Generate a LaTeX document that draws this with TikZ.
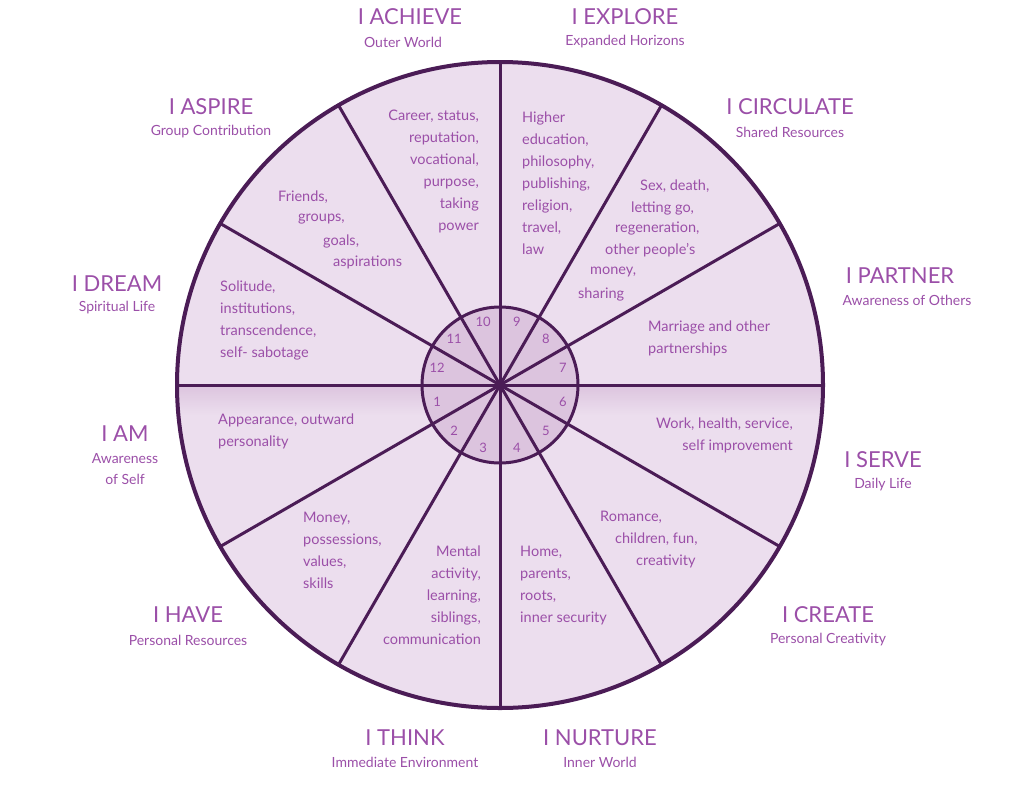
\documentclass[tikz,border=0pt]{standalone}
\usepackage{fontspec}
\usetikzlibrary{calc}
\setmainfont{Lato}
\definecolor{outl}{HTML}{4B1C56}
\definecolor{wfill}{HTML}{ECDEEE}
\definecolor{ifill}{HTML}{DCC4DE}
\definecolor{txt}{HTML}{9B4FA8}
\begin{document}
\begin{tikzpicture}[x=1pt,y=-1pt,
  title/.style={text=txt,font=\fontsize{22}{24}\selectfont,inner sep=0},
  sub/.style={text=txt,font=\fontsize{14}{16}\selectfont,inner sep=0},
  body/.style={text=txt,font=\fontsize{14.5}{22}\selectfont,inner sep=0},
  num/.style={text=txt,font=\fontsize{13}{15}\selectfont,inner sep=0},
  spoke/.style={draw=outl,line width=3pt}]
\useasboundingbox (0,0) rectangle (1024,798);
\coordinate (c) at (500,385);
\fill[wfill] (c) circle (323);
\begin{scope}
\clip (c) circle (323);
\shade[top color=ifill,bottom color=wfill] (150,385) rectangle (850,415);
\end{scope}
\fill[ifill] (c) circle (78);
\foreach \a in {0,30,...,330} \draw[spoke] (c) -- ++({-\a}:323);
\draw[outl,line width=3pt] (c) circle (78);
\draw[outl,line width=4pt] (c) circle (323);
\foreach \n in {1,...,12} \node[num] (n\n) at ($(c)+({-(165+30*\n)}:65)$) {\n};
% titles
\node[title] (t10) at (410,17) {I ACHIEVE}; \node[sub] (s10) at (403,42) {Outer World};
\node[title] (t9) at (625,17) {I EXPLORE}; \node[sub] (s9) at (625,42) {Expanded Horizons};
\node[title] (t8) at (790,107) {I CIRCULATE}; \node[sub] (s8) at (790,132) {Shared Resources};
\node[title] (t7) at (900,276) {I PARTNER}; \node[sub] (s7) at (907,300) {Awareness of Others};
\node[title] (t6) at (883,460) {I SERVE}; \node[sub] (s6) at (883,485) {Daily Life};
\node[title] (t5) at (828,615) {I CREATE}; \node[sub] (s5) at (828,640) {Personal Creativity};
\node[title] (t4) at (600,738) {I NURTURE}; \node[sub] (s4) at (600,762) {Inner World};
\node[title] (t3) at (405,738) {I THINK}; \node[sub] (s3) at (405,762) {Immediate Environment};
\node[title] (t2) at (188,615) {I HAVE}; \node[sub] (s2) at (188,640) {Personal Resources};
\node[title] (t1) at (125,434) {I AM}; \node[sub,align=center,font=\fontsize{14}{21}\selectfont] (s1) at (125,469) {Awareness\\of Self};
\node[title] (t12) at (117,284) {I DREAM}; \node[sub] (s12) at (117,308) {Spiritual Life};
\node[title] (t11) at (211,107) {I ASPIRE}; \node[sub] (s11) at (211,132) {Group Contribution};
% bodies
\node[body,align=right,anchor=north east] (b10) at (479,110) {Career, status,\\reputation,\\vocational,\\purpose,\\taking\\power};
\node[body,align=left,anchor=north west] (b9) at (522,112) {Higher\\education,\\philosophy,\\publishing,\\religion,\\travel,\\law};
\node[body,anchor=west] (b8a) at (640,186) {Sex, death,};
\node[body,anchor=west] (b8b) at (631,208) {letting go,};
\node[body,anchor=west] (b8c) at (615,229) {regeneration,};
\node[body,anchor=west] (b8d) at (605,250) {other people’s};
\node[body,anchor=west] (b8e) at (590,272) {money,};
\node[body,anchor=west] (b8f) at (578,294) {sharing};
\node[body,align=left,anchor=north west] (b7) at (648,321) {Marriage and other\\partnerships};
\node[body,align=right,anchor=north east] (b6) at (793,418) {Work, health, service,\\self improvement};
\node[body,anchor=west] (b5a) at (600,517) {Romance,};
\node[body,anchor=west] (b5b) at (615,539) {children, fun,};
\node[body,anchor=west] (b5c) at (636,561) {creativity};
\node[body,align=left,anchor=north west] (b4) at (520,546) {Home,\\parents,\\roots,\\inner security};
\node[body,align=right,anchor=north east] (b3) at (481,546) {Mental\\activity,\\learning,\\siblings,\\communication};
\node[body,align=left,anchor=north west] (b2) at (303,512) {Money,\\possessions,\\values,\\skills};
\node[body,align=left,anchor=north west] (b1) at (218,414) {Appearance, outward\\personality};
\node[body,align=left,anchor=north west] (b12) at (220,281) {Solitude,\\institutions,\\transcendence,\\self- sabotage};
\node[body,anchor=west] (b11a) at (278,197) {Friends,};
\node[body,anchor=west] (b11b) at (298,219) {groups,};
\node[body,anchor=west] (b11c) at (323,241) {goals,};
\node[body,anchor=west] (b11d) at (333,262) {aspirations};
\end{tikzpicture}
\end{document}
